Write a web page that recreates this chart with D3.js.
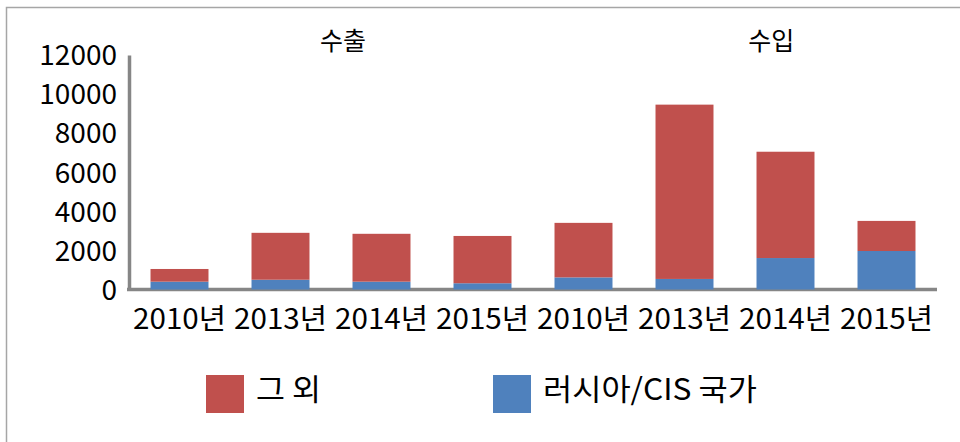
<!DOCTYPE html>
<html>
<head>
<meta charset="utf-8">
<script src="https://cdn.jsdelivr.net/npm/d3@7"></script>
<style>
    body { margin: 0; background: #fff; }
    svg { display: block; }
    svg text { font-family: "Noto Sans CJK KR", "Noto Sans", sans-serif; }
</style>
</head>
<body>
<svg id="chart" width="960" height="442"></svg>
<script>
// data
var groups = ["수출", "수입"];
var years = ["2010년", "2013년", "2014년", "2015년"];
var series = ["러시아/CIS 국가", "그 외"];
var russia = [400, 500, 400, 320, 620, 540, 1610, 1970];
var others = [650, 2400, 2450, 2420, 2790, 8920, 5440, 1540];
var yTicks = [0, 2000, 4000, 6000, 8000, 10000, 12000];
var colors = {"러시아/CIS 국가": "#4f81bd", "그 외": "#c0504d"};
var legendOrder = ["그 외", "러시아/CIS 국가"];

var canvas = d3.select("#chart"),
    width = 960,
    height = 442,
    margins = {"left": 129, "right": 23, "top": 55, "bottom": 152.5},
    axisColor = "#868686";

// rows: one per bar, key = group + year
var rows = [];
groups.forEach((g, gi) => {
    years.forEach((yr, yi) => {
        var i = gi * years.length + yi;
        rows.push({"key": g + yr, "label": yr, "group": g, "러시아/CIS 국가": russia[i], "그 외": others[i]});
    });
});

var x = d3.scaleBand()
    .domain(rows.map(d => d.key))
    .range([margins.left, width - margins.right])
    .paddingInner(0.426)
    .paddingOuter(0.213);

var y = d3.scaleLinear()
    .domain([0, 12000])
    .range([height - margins.bottom, margins.top]);

// chart frame
canvas.append("rect")
    .attr("x", 6.5).attr("y", 7.5)
    .attr("width", width + 20).attr("height", height + 20)
    .attr("fill", "none").attr("stroke", "#a6a6a6").attr("stroke-width", 1.5);

// axes
var yAxis = canvas.append("g").attr("transform", "translate(" + [margins.left, 0] + ")")
    .call(d3.axisLeft(y).tickValues(yTicks).tickFormat(d3.format("d"))
        .tickSize(0).tickSizeOuter(0).tickPadding(12));
yAxis.attr("font-family", null);
yAxis.select(".domain").attr("stroke", axisColor).attr("stroke-width", 3.5);
yAxis.selectAll("text").style("font-size", "28px").attr("fill", "#000").attr("dy", "0.35em");

var xAxis = canvas.append("g").attr("transform", "translate(" + [0, y(0)] + ")")
    .call(d3.axisBottom(x).tickSize(0).tickSizeOuter(0).tickPadding(20)
        .tickFormat(k => rows.find(r => r.key === k).label));
xAxis.attr("font-family", null);
xAxis.select(".domain").attr("stroke", axisColor).attr("stroke-width", 3.5)
    .attr("d", "M" + (margins.left - 2) + ",0H" + (width - margins.right));
xAxis.selectAll("text").style("font-size", "28px").attr("fill", "#000")
    .attr("textLength", 93).attr("lengthAdjust", "spacingAndGlyphs");

// stacked bars
var stack = d3.stack().keys(series)(rows);

canvas.append("g").selectAll("g")
    .data(stack)
    .enter().append("g")
    .attr("fill", s => colors[s.key])
    .selectAll("rect")
    .data(s => s)
    .enter().append("rect")
    .attr("x", d => x(d.data.key))
    .attr("y", d => y(d[1]))
    .attr("width", x.bandwidth())
    .attr("height", d => y(d[0]) - y(d[1]));

// group titles (text boxes above the bars, offset in bar steps)
var groupAt = [1.62, 5.86];
canvas.append("g").selectAll("text")
    .data(groups)
    .enter().append("text")
    .attr("x", (d, i) => x(rows[0].key) + x.bandwidth() / 2 + groupAt[i] * x.step())
    .attr("y", 50)
    .attr("text-anchor", "middle")
    .style("font-size", "25px")
    .attr("fill", "#000")
    .text(d => d);

// legend
var legend = canvas.append("g").attr("transform", "translate(206,375)");
var item = legend.selectAll("g")
    .data(legendOrder)
    .enter().append("g")
    .attr("transform", (d, i) => "translate(" + [i * 287, 0] + ")");
item.append("rect").attr("width", 38).attr("height", 38).attr("fill", d => colors[d]);
item.append("text")
    .attr("x", 50).attr("y", 25)
    .style("font-size", "30px")
    .attr("fill", "#000")
    .attr("textLength", d => d.length > 3 ? 214 : 65)
    .attr("lengthAdjust", "spacingAndGlyphs")
    .text(d => d);
</script>
</body>
</html>
